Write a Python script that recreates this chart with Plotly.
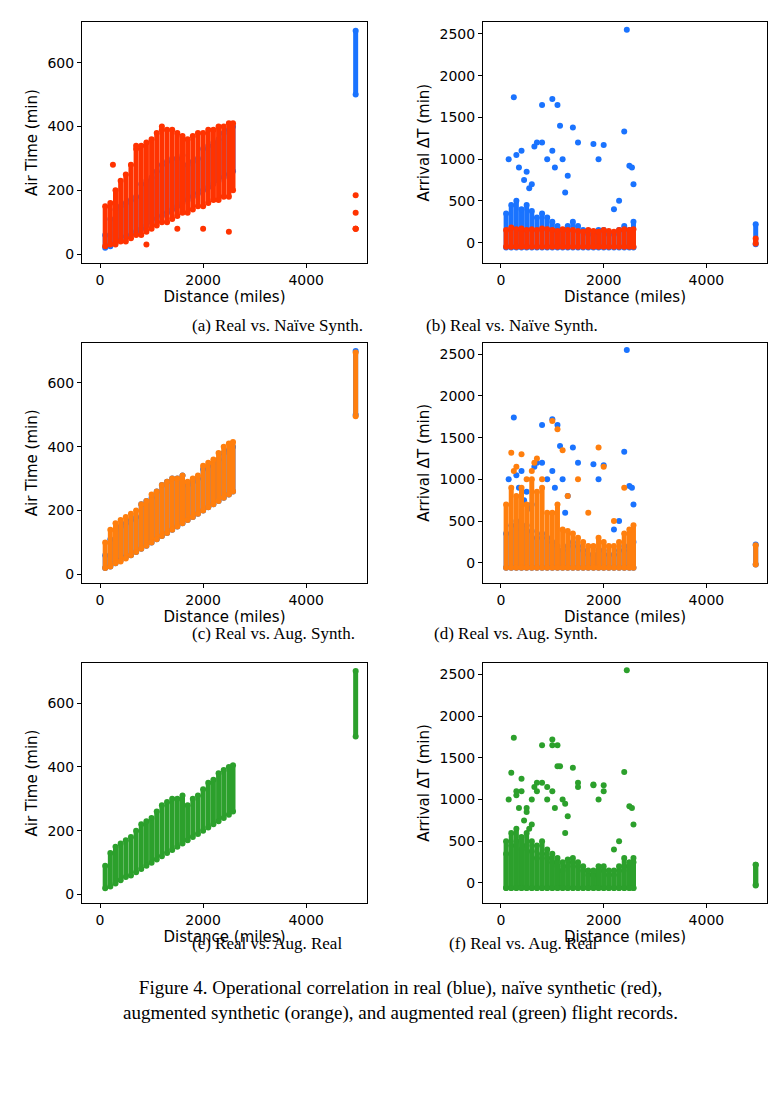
import plotly.graph_objects as go

# distance bins (miles) used by the vertical bands
dist = [100, 200, 300, 400, 500, 600, 700, 800, 900, 1000, 1100, 1200, 1300, 1400, 1500,
        1600, 1700, 1800, 1900, 2000, 2100, 2200, 2300, 2400, 2500, 2580, 4960]

# air time ranges (min)
real_air_lo = [20, 25, 35, 45, 55, 60, 70, 80, 90, 100, 110, 120, 130, 140, 150, 160, 170, 180, 190, 200, 210, 220, 230, 240, 250, 260, 500]
real_air_hi = [60, 110, 140, 150, 160, 170, 180, 220, 230, 240, 260, 280, 290, 300, 300, 310, 280, 290, 300, 330, 340, 350, 360, 380, 390, 400, 700]
naive_air_lo = [25, 30, 30, 40, 40, 50, 60, 60, 70, 80, 90, 100, 100, 110, 120, 130, 130, 140, 150, 150, 160, 170, 170, 180, 180, 200, 80]
naive_air_hi = [150, 160, 200, 230, 250, 280, 330, 340, 350, 360, 380, 390, 390, 390, 380, 370, 360, 370, 380, 380, 390, 390, 400, 400, 410, 410, 80]
naive_air_pts_x = [250, 900, 1500, 2000, 4960, 4960, 4960, 700, 1200, 2500]
naive_air_pts_y = [280, 30, 80, 80, 80, 130, 185, 340, 400, 70]
aug_air_lo = [20, 25, 35, 40, 50, 60, 70, 80, 90, 100, 110, 120, 130, 140, 150, 160, 170, 180, 190, 200, 210, 220, 230, 240, 250, 260, 495]
aug_air_hi = [100, 140, 160, 170, 180, 190, 200, 220, 230, 250, 260, 280, 290, 300, 300, 310, 290, 300, 310, 340, 350, 360, 380, 400, 410, 415, 695]
green_air_lo = [20, 25, 35, 45, 55, 60, 70, 80, 90, 100, 110, 120, 130, 140, 150, 160, 170, 180, 190, 200, 210, 220, 230, 240, 250, 260, 495]
green_air_hi = [90, 130, 150, 160, 170, 180, 200, 220, 230, 240, 260, 280, 290, 300, 300, 310, 280, 300, 310, 330, 350, 360, 380, 390, 400, 405, 700]

# arrival delay ranges (min)
real_del_lo = [-60] * 26 + [-20]
real_del_hi = [350, 450, 500, 400, 450, 380, 300, 350, 300, 250, 200, 150, 200, 250, 200, 150, 100, 100, 150, 150, 100, 100, 150, 200, 150, 250, 220]
real_del_pts_x = [250, 400, 300, 700, 800, 900, 1000, 1100, 1200, 1300, 1500, 1800, 2000, 2400, 2450, 2500, 600, 500, 1000,
                  1400, 150, 2300, 1900, 2550, 650, 1150, 350, 800, 450, 550, 1050, 1250, 2200, 2580]
real_del_pts_y = [1740, 1100, 1050, 1200, 1650, 1000, 1720, 1650, 1000, 800, 1200, 1180, 1170, 1330, 2550, 920, 700, 850, 1100,
                  1380, 1000, 500, 1000, 900, 1150, 1400, 900, 1200, 750, 650, 900, 600, 400, 700]
naive_del_lo = [-50] * 26 + [-10]
naive_del_hi = [150, 180, 160, 170, 150, 160, 150, 170, 160, 150, 140, 160, 150, 150, 140, 130, 150, 140, 130, 150, 140, 130, 150, 160, 150, 160, 50]
aug_del_lo = [-60] * 26 + [-20]
aug_del_hi = [700, 900, 800, 900, 700, 1000, 850, 900, 600, 600, 700, 400, 380, 350, 300, 250, 200, 200, 300, 250, 200, 200, 250, 350, 400, 450, 210]
aug_del_pts_x = [200, 300, 400, 600, 700, 1000, 1100, 1200, 1500, 1900, 2000, 2400, 500, 800, 250, 650, 1300, 1700, 2200]
aug_del_pts_y = [1320, 1150, 1300, 1100, 1250, 1700, 1600, 1350, 1000, 1380, 1150, 900, 1000, 1000, 1100, 1200, 800, 600, 500]
green_del_lo = [-60] * 26 + [-30]
green_del_hi = [500, 600, 650, 550, 600, 500, 450, 500, 400, 350, 300, 250, 280, 300, 250, 200, 150, 150, 200, 200, 150, 150, 200, 300, 250, 300, 220]
green_del_pts_x = [200, 300, 400, 600, 700, 1000, 1100, 1500, 1800, 2000, 500, 900, 1250]
green_del_pts_y = [1320, 1100, 1250, 1000, 1100, 1650, 1400, 1150, 1170, 1100, 900, 1150, 950]

BLUE, RED, ORANGE, GREEN = "#1a73ff", "#ff3300", "#ff7f0e", "#2ca02c"


def bands(fig, lo, hi, color, xa, ya):
    xs, ys = [], []
    for d, a, b in zip(dist, lo, hi):
        xs += [d, d, None]
        ys += [a, b, None]
    fig.add_trace(go.Scatter(x=xs, y=ys, mode="lines+markers", xaxis=xa, yaxis=ya,
                             line=dict(color=color, width=5), marker=dict(color=color, size=6),
                             showlegend=False))


def points(fig, px, py, color, xa, ya):
    fig.add_trace(go.Scatter(x=px, y=py, mode="markers", xaxis=xa, yaxis=ya,
                             marker=dict(color=color, size=6), showlegend=False))


def pxx(t):
    return (t - 8) / 784


def pxy(t):
    return 1 - ((t - 7) / 1.04) / 1112


fig = go.Figure()
# row 1
bands(fig, real_air_lo, real_air_hi, BLUE, "x", "y")
bands(fig, naive_air_lo, naive_air_hi, RED, "x", "y")
points(fig, naive_air_pts_x, naive_air_pts_y, RED, "x", "y")
bands(fig, real_del_lo, real_del_hi, BLUE, "x2", "y2")
points(fig, real_del_pts_x, real_del_pts_y, BLUE, "x2", "y2")
bands(fig, naive_del_lo, naive_del_hi, RED, "x2", "y2")
# row 2
bands(fig, real_air_lo, real_air_hi, BLUE, "x3", "y3")
bands(fig, aug_air_lo, aug_air_hi, ORANGE, "x3", "y3")
bands(fig, real_del_lo, real_del_hi, BLUE, "x4", "y4")
points(fig, real_del_pts_x, real_del_pts_y, BLUE, "x4", "y4")
bands(fig, aug_del_lo, aug_del_hi, ORANGE, "x4", "y4")
points(fig, aug_del_pts_x, aug_del_pts_y, ORANGE, "x4", "y4")
# row 3
bands(fig, green_air_lo, green_air_hi, GREEN, "x5", "y5")
bands(fig, real_del_lo, real_del_hi, GREEN, "x6", "y6")
points(fig, real_del_pts_x, real_del_pts_y, GREEN, "x6", "y6")
bands(fig, green_del_lo, green_del_hi, GREEN, "x6", "y6")
points(fig, green_del_pts_x, green_del_pts_y, GREEN, "x6", "y6")

tickfont = dict(family="DejaVu Sans", size=14, color="black")
titlefont = dict(family="DejaVu Sans", size=15, color="black")
ax_common = dict(showline=True, linecolor="black", linewidth=1, mirror=True, showgrid=False,
                 zeroline=False, ticks="outside", ticklen=4, tickcolor="black", tickfont=tickfont)

rows = [[pxy(272), pxy(22)], [pxy(605), pxy(355)], [pxy(938), pxy(688)]]
cols = [[pxx(82), pxx(367)], [pxx(483), pxx(767)]]
layout = {}
n = 1
for r in rows:
    for c, col in enumerate(cols):
        sfx = "" if n == 1 else str(n)
        layout["xaxis" + sfx] = dict(ax_common, domain=col, anchor="y" + sfx, range=[-350, 5180],
                                     tickvals=[0, 2000, 4000],
                                     title=dict(text="Distance (miles)", font=titlefont, standoff=2))
        if c == 0:
            yr, yt, yl = [-27, 726], [0, 200, 400, 600], "Air Time (min)"
        else:
            yr, yt, yl = [-242, 2638], [0, 500, 1000, 1500, 2000, 2500], "Arrival ΔT (min)"
        layout["yaxis" + sfx] = dict(ax_common, domain=r, anchor="x" + sfx, range=yr, tickvals=yt,
                                     title=dict(text=yl, font=titlefont, standoff=6))
        n += 1
fig.update_layout(**layout)

caps = ["(a) Real vs. Naïve Synth.", "(b) Real vs. Naïve Synth.",
        "(c) Real vs. Aug. Synth.", "(d) Real vs. Aug. Synth.",
        "(e) Real vs. Aug. Real", "(f) Real vs. Aug. Real"]
cap_y = [325, 658, 992]
serif = dict(family="Liberation Serif", size=17, color="black")
for i, t in enumerate(caps):
    fig.add_annotation(text=t, xref="paper", yref="paper", x=pxx([190, 600][i % 2]),
                       y=pxy(cap_y[i // 2]), showarrow=False, font=serif)
fig.add_annotation(text="Figure 4. Operational correlation in real (blue), naïve synthetic (red),<br>"
                        "augmented synthetic (orange), and augmented real (green) flight records.",
                   xref="paper", yref="paper", x=pxx(400), y=pxy(1066), showarrow=False,
                   font=dict(family="Liberation Serif", size=19, color="black"), align="center")

fig.update_layout(width=784, height=1112, margin=dict(l=0, r=0, t=0, b=0),
                  plot_bgcolor="white", paper_bgcolor="white")
fig.write_html("out.html")
